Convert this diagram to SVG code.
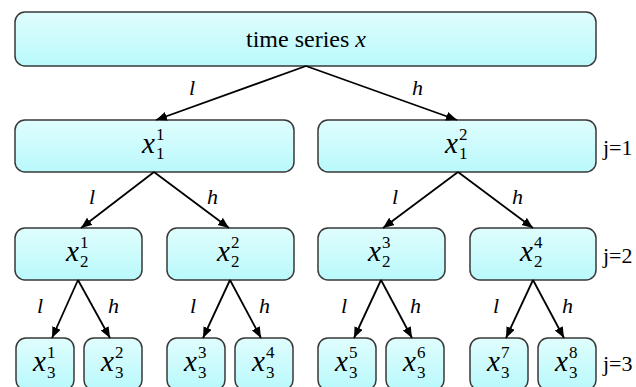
<svg xmlns="http://www.w3.org/2000/svg" width="636" height="387" viewBox="0 0 636 387">
  <defs>
    <linearGradient id="boxFill" x1="0" y1="0" x2="0" y2="1">
      <stop offset="0" stop-color="#e0fdfd"/>
      <stop offset="1" stop-color="#b9f9fc"/>
    </linearGradient>
    <marker id="arrow" markerUnits="userSpaceOnUse" markerWidth="12" markerHeight="10" refX="11" refY="4.5" orient="auto">
      <path d="M0,0 L11,4.5 L0,9 z" fill="#000"/>
    </marker>
  </defs>
  <style>
    .box { fill: url(#boxFill); stroke: #383838; stroke-width: 1.5; }
    text { font-family: "Liberation Serif", "Times New Roman", Tinos, "DejaVu Serif", "Noto Serif", serif; fill: #000; }
    .it { font-style: italic; }
    .var { font-size: 29px; font-style: italic; }
    .idx { font-size: 17px; }
    .lab { font-size: 22px; font-style: italic; }
    .lvl { font-size: 22px; }
    .edge { stroke: #000; stroke-width: 1.8; fill: none; marker-end: url(#arrow); }
  </style>

  <rect width="636" height="387" fill="#fff"/>

  <!-- root -->
  <g id="root">
    <rect class="box" x="15" y="12" width="581" height="54" rx="10"/>
    <text x="306" y="47" font-size="24" text-anchor="middle">time series <tspan class="it">x</tspan></text>
  </g>

  <!-- level j=1 -->
  <g id="x1_1">
    <rect class="box" x="15" y="120" width="279" height="52" rx="10"/>
    <text class="var" x="142" y="153">x</text>
    <text class="idx" x="156" y="140">1</text>
    <text class="idx" x="156" y="159">1</text>
  </g>
  <g id="x1_2">
    <rect class="box" x="318" y="120" width="278" height="52" rx="10"/>
    <text class="var" x="445" y="153">x</text>
    <text class="idx" x="459" y="140">2</text>
    <text class="idx" x="459" y="159">1</text>
  </g>

  <!-- level j=2 -->
  <g id="x2_1">
    <rect class="box" x="15" y="228" width="127" height="52" rx="10"/>
    <text class="var" x="66" y="261">x</text>
    <text class="idx" x="80" y="248">1</text>
    <text class="idx" x="80" y="267">2</text>
  </g>
  <g id="x2_2">
    <rect class="box" x="167" y="228" width="127" height="52" rx="10"/>
    <text class="var" x="217" y="261">x</text>
    <text class="idx" x="231" y="248">2</text>
    <text class="idx" x="231" y="267">2</text>
  </g>
  <g id="x2_3">
    <rect class="box" x="318" y="228" width="127" height="52" rx="10"/>
    <text class="var" x="368" y="261">x</text>
    <text class="idx" x="382" y="248">3</text>
    <text class="idx" x="382" y="267">2</text>
  </g>
  <g id="x2_4">
    <rect class="box" x="470" y="228" width="126" height="52" rx="10"/>
    <text class="var" x="520" y="261">x</text>
    <text class="idx" x="534" y="248">4</text>
    <text class="idx" x="534" y="267">2</text>
  </g>

  <!-- level j=3 -->
  <g id="x3_1">
    <rect class="box" x="16" y="338" width="58" height="52" rx="10"/>
    <text class="var" x="33" y="371">x</text>
    <text class="idx" x="47" y="358">1</text>
    <text class="idx" x="47" y="378">3</text>
  </g>
  <g id="x3_2">
    <rect class="box" x="84" y="338" width="58" height="52" rx="10"/>
    <text class="var" x="101" y="371">x</text>
    <text class="idx" x="115" y="358">2</text>
    <text class="idx" x="115" y="378">3</text>
  </g>
  <g id="x3_3">
    <rect class="box" x="167" y="338" width="58" height="52" rx="10"/>
    <text class="var" x="184" y="371">x</text>
    <text class="idx" x="198" y="358">3</text>
    <text class="idx" x="198" y="378">3</text>
  </g>
  <g id="x3_4">
    <rect class="box" x="235" y="338" width="58" height="52" rx="10"/>
    <text class="var" x="252" y="371">x</text>
    <text class="idx" x="266" y="358">4</text>
    <text class="idx" x="266" y="378">3</text>
  </g>
  <g id="x3_5">
    <rect class="box" x="318" y="338" width="58" height="52" rx="10"/>
    <text class="var" x="335" y="371">x</text>
    <text class="idx" x="349" y="358">5</text>
    <text class="idx" x="349" y="378">3</text>
  </g>
  <g id="x3_6">
    <rect class="box" x="386" y="338" width="58" height="52" rx="10"/>
    <text class="var" x="403" y="371">x</text>
    <text class="idx" x="417" y="358">6</text>
    <text class="idx" x="417" y="378">3</text>
  </g>
  <g id="x3_7">
    <rect class="box" x="470" y="338" width="58" height="52" rx="10"/>
    <text class="var" x="487" y="371">x</text>
    <text class="idx" x="501" y="358">7</text>
    <text class="idx" x="501" y="378">3</text>
  </g>
  <g id="x3_8">
    <rect class="box" x="538" y="338" width="58" height="52" rx="10"/>
    <text class="var" x="555" y="371">x</text>
    <text class="idx" x="569" y="358">8</text>
    <text class="idx" x="569" y="378">3</text>
  </g>

  <!-- scale labels -->
  <g id="levels">
    <text class="lvl" x="603" y="155">j=1</text>
    <text class="lvl" x="603" y="263">j=2</text>
    <text class="lvl" x="603" y="371">j=3</text>
  </g>

  <!-- low-pass (l) / high-pass (h) branches -->
  <g id="connectors">
    <line class="edge" x1="306" y1="66" x2="156" y2="120"/>
    <line class="edge" x1="306" y1="66" x2="457" y2="120"/>

    <line class="edge" x1="154" y1="172" x2="81" y2="228"/>
    <line class="edge" x1="154" y1="172" x2="229" y2="228"/>
    <line class="edge" x1="458" y1="172" x2="383" y2="228"/>
    <line class="edge" x1="458" y1="172" x2="533" y2="228"/>

    <line class="edge" x1="78" y1="280" x2="52" y2="338"/>
    <line class="edge" x1="78" y1="280" x2="110" y2="338"/>
    <line class="edge" x1="230" y1="280" x2="203" y2="338"/>
    <line class="edge" x1="230" y1="280" x2="261" y2="338"/>
    <line class="edge" x1="381" y1="280" x2="354" y2="338"/>
    <line class="edge" x1="381" y1="280" x2="412" y2="338"/>
    <line class="edge" x1="533" y1="280" x2="506" y2="338"/>
    <line class="edge" x1="533" y1="280" x2="564" y2="338"/>
  </g>

  <g id="branch-labels">
    <text class="lab" x="189" y="95">l</text>
    <text class="lab" x="412" y="95">h</text>

    <text class="lab" x="89" y="204">l</text>
    <text class="lab" x="207" y="204">h</text>
    <text class="lab" x="392" y="204">l</text>
    <text class="lab" x="512" y="204">h</text>

    <text class="lab" x="37" y="313">l</text>
    <text class="lab" x="108" y="313">h</text>
    <text class="lab" x="190" y="313">l</text>
    <text class="lab" x="259" y="313">h</text>
    <text class="lab" x="341" y="313">l</text>
    <text class="lab" x="410" y="313">h</text>
    <text class="lab" x="493" y="313">l</text>
    <text class="lab" x="562" y="313">h</text>
  </g>
</svg>
